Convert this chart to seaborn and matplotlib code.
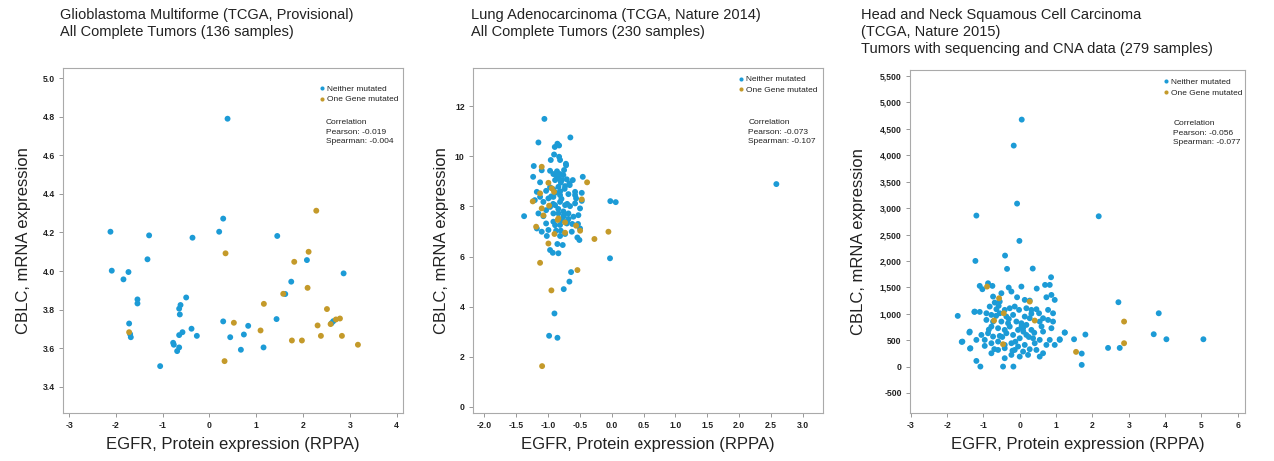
import numpy as np
import pandas as pd
import matplotlib
matplotlib.use("Agg")
import matplotlib.pyplot as plt
import seaborn as sns
from matplotlib.ticker import StrMethodFormatter

# ---------------- data ----------------
groups = ["Neither mutated", "One Gene mutated"]
palette = {"Neither mutated": "#1c9bd6", "One Gene mutated": "#c49a2a"}

titles = [
    "Glioblastoma Multiforme (TCGA, Provisional)\nAll Complete Tumors (136 samples)",
    "Lung Adenocarcinoma (TCGA, Nature 2014)\nAll Complete Tumors (230 samples)",
    "Head and Neck Squamous Cell Carcinoma\n(TCGA, Nature 2015)\nTumors with sequencing and CNA data (279 samples)",
]
correlations = [("-0.019", "-0.004"), ("-0.073", "-0.107"), ("-0.056", "-0.077")]
xlabel = "EGFR, Protein expression (RPPA)"
ylabel = "CBLC, mRNA expression"

# Panel 1 - Glioblastoma
gbm_blue_x = [0.386, -2.116, -1.29, -0.363, 0.207, 0.293, 1.448, -1.325, -2.088, -1.731,
              -1.838, 2.082, 2.866, 1.747, -1.539, -1.539, -0.498, -0.619, -0.648, -0.634,
              1.619, -1.717, -1.696, -1.681, -0.577, -0.648, -0.384, -0.270, -0.776, -0.762,
              -0.648, -0.691, -1.054, 0.293, 0.443, 0.827, 0.735, 0.671, 1.155, 1.433,
              2.609, 2.645]
gbm_blue_y = [4.79, 4.204, 4.185, 4.173, 4.204, 4.272, 4.182, 4.061, 4.002, 3.995,
              3.957, 4.057, 3.988, 3.945, 3.853, 3.832, 3.863, 3.824, 3.805, 3.775,
              3.881, 3.728, 3.673, 3.657, 3.683, 3.668, 3.701, 3.664, 3.628, 3.618,
              3.604, 3.585, 3.507, 3.739, 3.657, 3.716, 3.671, 3.592, 3.604, 3.751,
              3.730, 3.740]
gbm_gold_x = [2.282, 0.343, 2.118, 1.811, 2.096, 1.576, 1.162, 2.510, 0.521, 2.310,
              1.091, 2.588, 2.702, 2.788, 2.381, 2.830, 1.761, 1.975, 3.172, 0.322, -1.717]
gbm_gold_y = [4.313, 4.092, 4.100, 4.048, 3.913, 3.882, 3.830, 3.803, 3.732, 3.718,
              3.692, 3.725, 3.749, 3.754, 3.664, 3.664, 3.640, 3.640, 3.618, 3.533, 3.683]

# Panel 2 - Lung adenocarcinoma
luad_blue_x = [-1.058, -1.152, -0.65, -0.854, -0.827, -0.895, -0.906, -0.827, -0.812, -0.958,
               -1.225, -1.10, -0.969, -0.717, -0.749, -1.235, -0.455, -1.126, -0.917, -0.863,
               -0.812, -0.760, -0.89, -0.785, -0.706, -0.665, -0.612, -0.733, -0.838, -0.917,
               -0.969, -1.031, -1.177, -1.126, -1.209, -1.074, -0.995, -0.917, -0.812, -0.681,
               -0.576, -0.576, -0.471, -0.56, -0.576, -0.471, -0.655, -0.733, -0.812, -0.89,
               -0.969, -1.031, -1.152, -1.377, -1.074, -0.917, -0.838, -0.76, -0.681, -0.602,
               -0.524, -0.498, -1.031, -0.917, -0.812, -0.706, -0.62, -0.53, -1.177, -1.10,
               -0.995, -0.874, -0.80, -0.733, -0.628, -0.498, -1.02, -0.812, -0.54, -0.508,
               -0.854, -0.77, -0.969, -0.926, -0.838, -0.022, 0.063, -0.027, -0.639, -0.665,
               -0.754, -0.90, -0.984, -0.853, 2.587,
               -0.86, -0.80, -0.74, -0.88, -0.79, -0.70, -0.84, -0.76, -0.95, -0.68,
               -0.78, -0.86, -0.72, -0.66, -0.92, -0.81, -0.75, -0.89, -0.70, -0.83]
luad_blue_y = [11.49, 10.55, 10.75, 10.50, 10.43, 10.37, 10.07, 9.98, 9.85, 9.85,
               9.61, 9.44, 9.42, 9.64, 9.45, 9.18, 9.18, 8.96, 9.29, 9.25,
               9.29, 9.25, 9.05, 9.05, 9.08, 8.92, 9.05, 8.81, 8.78, 8.68,
               8.76, 8.62, 8.58, 8.38, 8.25, 8.18, 8.32, 8.38, 8.45, 8.49,
               8.58, 8.45, 8.54, 8.32, 8.12, 8.22, 8.01, 8.05, 8.18, 8.05,
               7.98, 7.85, 7.72, 7.61, 7.61, 7.72, 7.72, 7.59, 7.72, 7.59,
               7.65, 7.92, 7.32, 7.39, 7.26, 7.32, 7.30, 7.30, 7.12, 6.99,
               7.06, 7.03, 7.03, 6.90, 6.99, 7.12, 6.82, 6.82, 6.76, 6.66,
               6.50, 6.46, 6.26, 6.15, 6.13, 8.21, 8.17, 5.93, 5.38, 5.00,
               4.70, 3.73, 2.84, 2.76, 8.89,
               9.15, 8.95, 8.70, 8.55, 8.30, 8.10, 7.90, 7.80, 8.40, 7.50,
               7.45, 9.40, 9.70, 8.85, 8.10, 8.60, 7.65, 7.25, 7.40, 9.10]
luad_gold_x = [-1.10, -0.995, -1.126, -1.241, -0.942, -0.906, -0.984, -1.10, -0.387, -0.471,
               -1.188, -1.073, -0.838, -0.848, -0.90, -0.733, -0.733, -0.56, -0.497, -0.995,
               -0.272, -0.052, -1.126, -0.539, -0.948, -1.094]
luad_gold_y = [9.58, 8.94, 8.52, 8.20, 8.72, 8.58, 8.03, 7.92, 8.96, 8.28,
               7.19, 7.64, 7.52, 7.46, 6.90, 7.36, 6.95, 7.23, 7.03, 6.52,
               6.70, 6.99, 5.75, 5.46, 4.65, 1.63]

# Panel 3 - Head and neck
hnsc_blue_x = [0.055, -0.165, -0.073, -0.009, -1.193, 2.174, -1.22, -0.404, -0.349, 0.358,
               0.862, 0.046, 0.468, 0.697, 0.826, -0.303, 2.716, 3.826, 3.688, 4.037,
               5.055, 2.431, 2.752, 1.706, 1.706, 1.807, 1.495, 1.239, 1.101, -1.706,
               -1.596, -1.367, -1.385, -1.193, -1.083, -0.459, -0.174, -1.248, -1.101,
               -1.101, -0.752, -1.028, -0.872, -0.734, -0.505, -0.229, -0.073, 0.138, 0.275,
               0.734, 0.872, 0.963, -0.55, -0.688, -0.826, -0.642, -0.413, -0.275, -0.138,
               -0.018, 0.183, 0.321, 0.459, 0.532, 0.78, 0.917, -1.239, -0.917, -0.78,
               -0.55, -0.367, -0.183, 0.138, 0.275, 0.642, 0.78, 0.917, -0.917, -0.734,
               -0.505, -0.321, -0.092, 0.046, 0.183, 0.55, -0.78, -0.596, -0.413, -0.275,
               -0.046, 0.092, 0.321, 0.642, 0.872, -1.376, -1.055, -0.872, -0.734, -0.55,
               -0.367, -0.183, 0.0, 0.183, 0.367, 0.55, 0.826, 1.101, 1.239, -1.193,
               -0.963, -0.78, -0.596, -0.413, -0.229, -0.046, 0.138, 0.413, 0.734, 0.963,
               -1.578, -0.963, -0.596, -0.413, -0.138, 0.092, 0.275, 0.459, 0.642, -1.358,
               -0.78, -0.229, 0.0, 0.229, 0.55, -0.413,
               -0.65, -0.30, 0.05, 0.40, -0.85, -0.48, -0.12, 0.25, 0.60, -0.70,
               -0.20, 0.32, -0.58, 0.10]
hnsc_blue_y = [4675, 4183, 3085, 2379, 2858, 2845, 2000, 2101, 1849, 1855,
               1691, 1514, 1476, 1546, 1546, 1495, 1218, 1009, 612, 517,
               517, 353, 353, 246, 32, 606, 517, 644, 517, 959,
               467, 341, 644, 107, 0, 0, 0, 1035, 1035,
               1527, 1527, 1464, 1577, 1325, 1388, 1420, 1312, 1262, 1249,
               1312, 1356, 1262, 1230, 1211, 1136, 1085, 1073, 1104, 1136,
               1073, 1104, 1073, 1085, 1009, 1073, 1009, 1041, 1009, 978,
               1009, 946, 978, 946, 915, 915, 883, 852, 883, 852,
               852, 820, 852, 820, 789, 852, 757, 726, 694, 757,
               694, 726, 694, 662, 726, 662, 599, 631, 568, 580,
               631, 599, 536, 599, 536, 505, 505, 505, 644, 505,
               505, 442, 473, 410, 442, 379, 410, 442, 410, 410,
               473, 391, 315, 347, 315, 284, 328, 315, 252, 347,
               252, 221, 189, 221, 189, 158,
               960, 900, 760, 640, 700, 560, 470, 560, 760, 330,
               300, 1000, 1150, 660]
hnsc_gold_x = [-0.899, -0.569, 0.275, -0.44, 0.413, -0.706, -0.459, 1.55, 2.872, 2.872]
hnsc_gold_y = [1514, 1293, 1230, 1009, 871, 871, 423, 278, 852, 442]


def frame(bx, by, gx, gy):
    return pd.DataFrame({
        "x": list(bx) + list(gx),
        "y": list(by) + list(gy),
        "group": [groups[0]] * len(bx) + [groups[1]] * len(gx),
    })


panels = [
    frame(gbm_blue_x, gbm_blue_y, gbm_gold_x, gbm_gold_y),
    frame(luad_blue_x, luad_blue_y, luad_gold_x, luad_gold_y),
    frame(hnsc_blue_x, hnsc_blue_y, hnsc_gold_x, hnsc_gold_y),
]

# ---------------- style ----------------
sns.set_style("white")
plt.rcParams["font.family"] = ["Liberation Sans", "DejaVu Sans"]
plt.rcParams["axes.unicode_minus"] = False

W, H = 1274, 461
fig = plt.figure(figsize=(W / 100, H / 100), dpi=100)

# axes boxes in pixels (left, top, right, bottom)
boxes = [(63, 68, 403, 413), (473, 68, 823, 413), (910, 70, 1245, 413)]
xlims = [(-3.13, 4.135), (-2.18, 3.32), (-3.02, 6.2)]
ylims = [(3.264, 5.053), (-0.24, 13.52), (-879, 5614)]
xticks = [np.arange(-3, 5, 1), np.arange(-2.0, 3.01, 0.5), np.arange(-3, 7, 1)]
yticks = [np.arange(3.4, 5.01, 0.2), np.arange(0, 13, 2), np.arange(-500, 5501, 500)]
xfmt = ["{x:.0f}", "{x:.1f}", "{x:.0f}"]
yfmt = ["{x:.1f}", "{x:.0f}", "{x:,.0f}"]
title_x = [60, 471, 861]
ylabel_pad = [8.5, 4.0, 10.0]
legend_anchor = [(0.752, 0.951), (0.756, 0.978), (0.754, 0.976)]
corr_pos = [(0.773, 0.851), (0.787, 0.851), (0.786, 0.853)]

for i, df in enumerate(panels):
    l, t, r, b = boxes[i]
    ax = fig.add_axes([l / W, 1 - b / H, (r - l) / W, (b - t) / H])
    sns.scatterplot(data=df, x="x", y="y", hue="group", hue_order=groups,
                    palette=palette, s=18, linewidth=0, ax=ax, legend=True)
    ax.set_xlim(*xlims[i])
    ax.set_ylim(*ylims[i])
    ax.set_xticks(xticks[i])
    ax.set_yticks(yticks[i])
    ax.xaxis.set_major_formatter(StrMethodFormatter(xfmt[i]))
    ax.yaxis.set_major_formatter(StrMethodFormatter(yfmt[i]))
    ax.tick_params(axis="both", which="major", direction="out", length=3, width=0.6,
                   color="#888888", labelsize=6.2, labelcolor="#222222", pad=3,
                   bottom=True, left=True)
    for lab in ax.get_xticklabels() + ax.get_yticklabels():
        lab.set_fontweight("bold")
    for sp in ax.spines.values():
        sp.set_color("#aaaaaa")
        sp.set_linewidth(0.8)
    ax.set_xlabel(xlabel, fontsize=12, color="#222222", labelpad=4.5)
    ax.set_ylabel(ylabel, fontsize=12, color="#222222", labelpad=ylabel_pad[i])

    leg = ax.legend(loc="upper left", bbox_to_anchor=legend_anchor[i], frameon=False,
                    fontsize=6, handletextpad=0.2, handlelength=0.8, borderpad=0,
                    borderaxespad=0, labelspacing=0.35, markerscale=0.7)
    for txt in leg.get_texts():
        txt.set_color("#222222")

    p, s = correlations[i]
    ax.text(corr_pos[i][0], corr_pos[i][1],
            f"Correlation\nPearson: {p}\nSpearman: {s}",
            transform=ax.transAxes, fontsize=6, va="top", ha="left",
            color="#222222", linespacing=1.45)

    fig.text(title_x[i] / W, 1 - 8 / H, titles[i], fontsize=10.5, va="top",
             ha="left", color="#222222", linespacing=1.25)

fig.savefig("out.png", dpi=100)
